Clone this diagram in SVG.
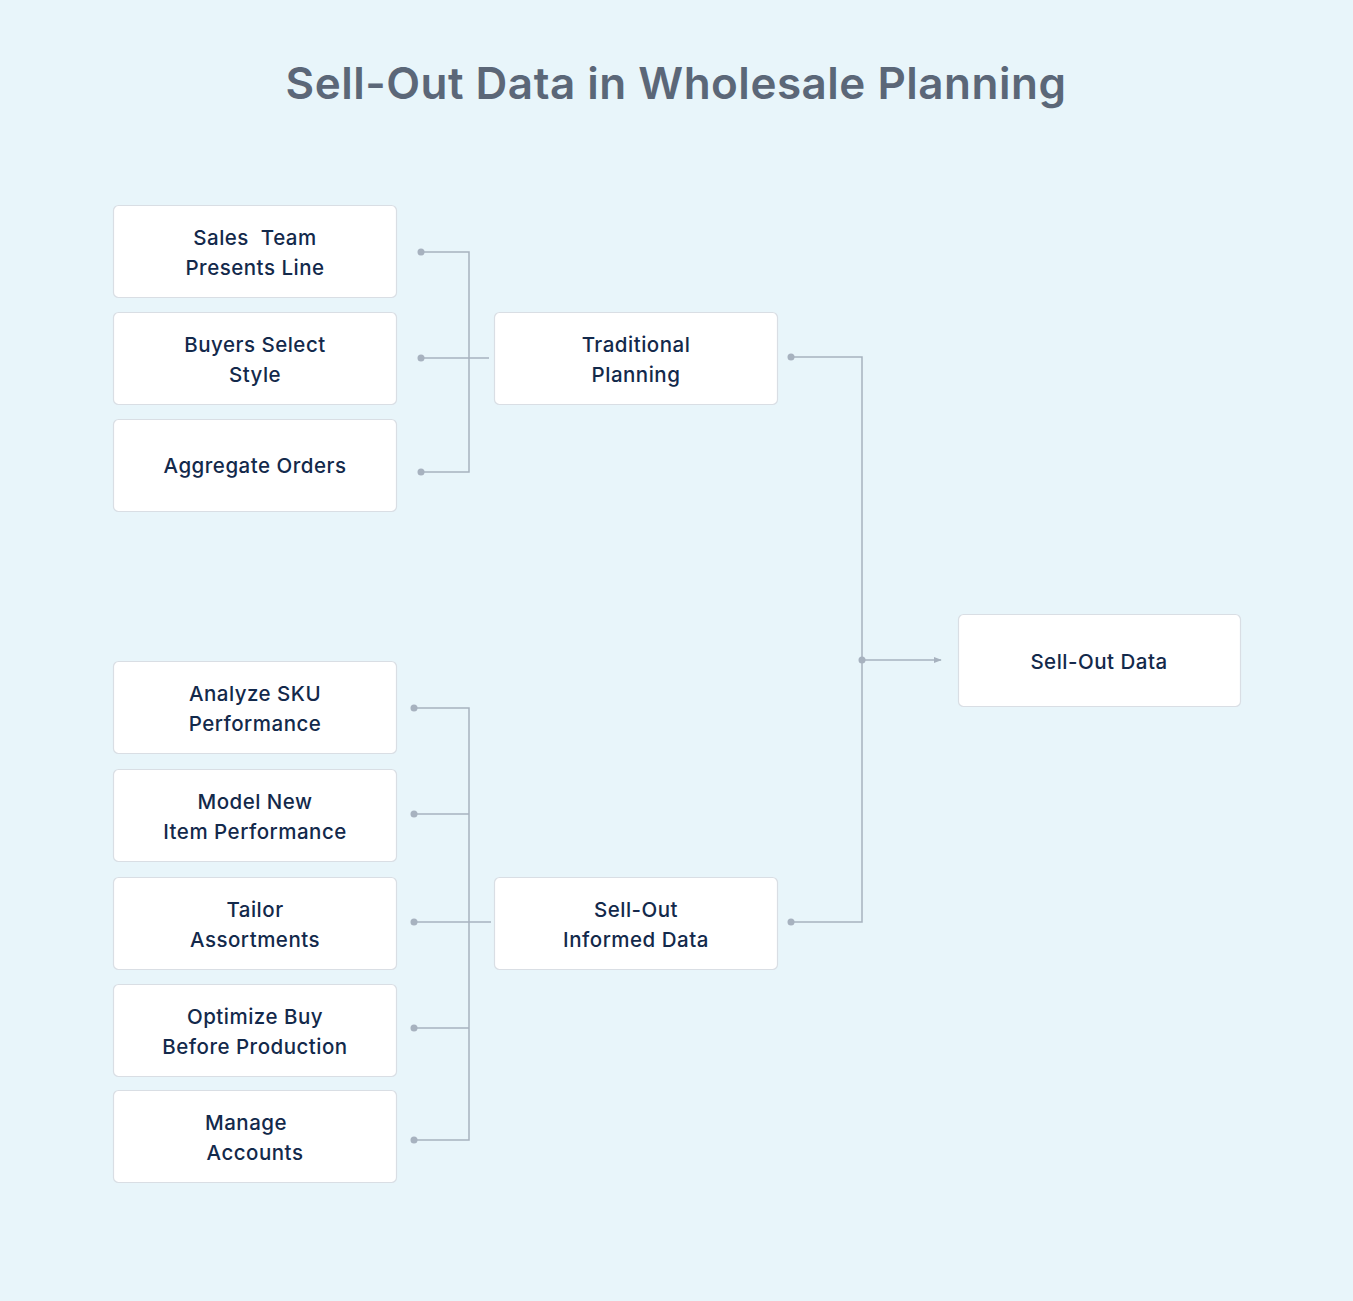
<svg xmlns="http://www.w3.org/2000/svg" width="1353" height="1301" viewBox="0 0 1353 1301">
<defs>
<style>
.bg{fill:#E8F5FA}
.title{font-family:Inter,"Noto Sans",sans-serif;font-size:44px;font-weight:600;fill:#5B6778;text-anchor:middle;letter-spacing:0.5px}
.box{fill:#FFFFFF;stroke:#D9DEE4;stroke-width:1.2}
.lbl{font-family:Inter,"Noto Sans",sans-serif;font-size:20.5px;font-weight:500;fill:#13294B;text-anchor:middle;white-space:pre;letter-spacing:0.5px}
.ln{fill:none;stroke:#A7B2BF;stroke-width:1.5}
.dot{fill:#A7B2BF}
</style>
<marker id="arr" viewBox="0 0 10 10" refX="9" refY="5" markerWidth="8" markerHeight="8" markerUnits="userSpaceOnUse" orient="auto">
<path d="M0,1 L10,5 L0,9 Z" fill="#A7B2BF"/>
</marker>
</defs>
<rect class="bg" x="0" y="0" width="1353" height="1301"/>
<text class="title" x="676" y="99">Sell-Out Data in Wholesale Planning</text>

<g id="connectors">
<path class="ln" d="M421,252 H469 V472 H421"/>
<path class="ln" d="M421,358 H489"/>
<path class="ln" d="M791,357 H862 V922 H791"/>
<path class="ln" d="M862,660 H941" marker-end="url(#arr)"/>
<path class="ln" d="M414,708 H469 V1140 H414"/>
<path class="ln" d="M414,814 H469"/>
<path class="ln" d="M414,1028 H469"/>
<path class="ln" d="M414,922 H491"/>
<circle class="dot" cx="421" cy="252" r="3.5"/>
<circle class="dot" cx="421" cy="358" r="3.5"/>
<circle class="dot" cx="421" cy="472" r="3.5"/>
<circle class="dot" cx="791" cy="357" r="3.5"/>
<circle class="dot" cx="791" cy="922" r="3.5"/>
<circle class="dot" cx="862" cy="660" r="3.5"/>
<circle class="dot" cx="414" cy="708" r="3.5"/>
<circle class="dot" cx="414" cy="814" r="3.5"/>
<circle class="dot" cx="414" cy="922" r="3.5"/>
<circle class="dot" cx="414" cy="1028" r="3.5"/>
<circle class="dot" cx="414" cy="1140" r="3.5"/>
</g>

<g id="node-sales-team">
<rect class="box" x="113.5" y="205.5" width="283" height="92" rx="5"/>
<text class="lbl" x="255" y="245">Sales  Team</text>
<text class="lbl" x="255" y="275">Presents Line</text>
</g>
<g id="node-buyers-select">
<rect class="box" x="113.5" y="312.5" width="283" height="92" rx="5"/>
<text class="lbl" x="255" y="352">Buyers Select</text>
<text class="lbl" x="255" y="382">Style</text>
</g>
<g id="node-aggregate-orders">
<rect class="box" x="113.5" y="419.5" width="283" height="92" rx="5"/>
<text class="lbl" x="255" y="473">Aggregate Orders</text>
</g>
<g id="node-traditional">
<rect class="box" x="494.5" y="312.5" width="283" height="92" rx="5"/>
<text class="lbl" x="636" y="352">Traditional</text>
<text class="lbl" x="636" y="382">Planning</text>
</g>
<g id="node-sellout-data">
<rect class="box" x="958.5" y="614.5" width="282" height="92" rx="5"/>
<text class="lbl" x="1099" y="669">Sell-Out Data</text>
</g>
<g id="node-analyze-sku">
<rect class="box" x="113.5" y="661.5" width="283" height="92" rx="5"/>
<text class="lbl" x="255" y="701">Analyze SKU</text>
<text class="lbl" x="255" y="731">Performance</text>
</g>
<g id="node-model-new">
<rect class="box" x="113.5" y="769.5" width="283" height="92" rx="5"/>
<text class="lbl" x="255" y="809">Model New</text>
<text class="lbl" x="255" y="839">Item Performance</text>
</g>
<g id="node-tailor">
<rect class="box" x="113.5" y="877.5" width="283" height="92" rx="5"/>
<text class="lbl" x="255" y="917">Tailor</text>
<text class="lbl" x="255" y="947">Assortments</text>
</g>
<g id="node-optimize">
<rect class="box" x="113.5" y="984.5" width="283" height="92" rx="5"/>
<text class="lbl" x="255" y="1024">Optimize Buy</text>
<text class="lbl" x="255" y="1054">Before Production</text>
</g>
<g id="node-manage">
<rect class="box" x="113.5" y="1090.5" width="283" height="92" rx="5"/>
<text class="lbl" x="246" y="1130">Manage</text>
<text class="lbl" x="255" y="1160">Accounts</text>
</g>
<g id="node-sellout-informed">
<rect class="box" x="494.5" y="877.5" width="283" height="92" rx="5"/>
<text class="lbl" x="636" y="917">Sell-Out</text>
<text class="lbl" x="636" y="947">Informed Data</text>
</g>
</svg>
